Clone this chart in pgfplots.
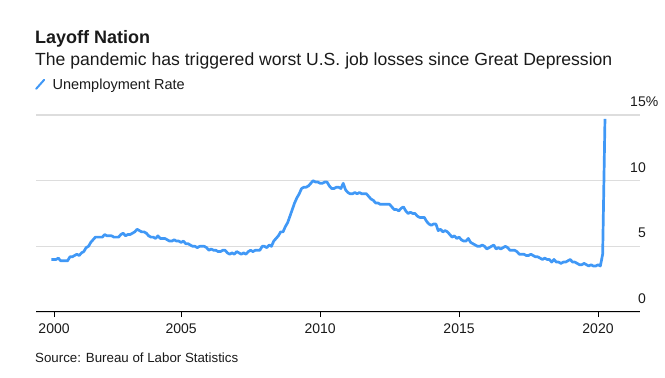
\documentclass[border=0pt]{standalone}
\usepackage{pgfplots}
\pgfplotsset{compat=1.18}
\usepackage{fontspec}
\setmainfont{Liberation Sans}
\definecolor{lineblue}{RGB}{64,152,246}
\definecolor{gridgray}{RGB}{221,221,221}
\definecolor{txt}{RGB}{26,26,26}
\begin{document}
\begin{tikzpicture}[x=1pt,y=1pt]
\path[use as bounding box] (0,0) rectangle (665,378);
\node[anchor=base west, inner sep=0pt, text=txt, font=\bfseries\fontsize{18}{18}\selectfont] at (35,334) {Layoff Nation};
\node[anchor=base west, inner sep=0pt, text=txt, font=\fontsize{17.6}{18}\selectfont] at (35,312) {The pandemic has triggered worst U.S. job losses since Great Depression};
\node[anchor=base west, inner sep=0pt, text=txt, font=\fontsize{13.3}{14}\selectfont] at (35,16) {Source: Bureau of Labor Statistics};
\begin{axis}[
  at={(36pt,66pt)}, anchor=south west,
  scale only axis, width=604pt, height=197pt,
  xmin=1999.78, xmax=2021.51, ymin=0, ymax=15,
  axis x line*=bottom, axis y line*=right,
  y axis line style={draw=none},
  x axis line style={black, line width=1pt, -},
  ytick={0,5,10,15}, yticklabels={0,5,10,15\rlap{\%}},
  ytick style={draw=none},
  ymajorgrids, grid style={gridgray, line width=1.2pt},
  xtick={2000.43,2005,2010,2015,2020},
  xticklabels={2000,2005,2010,2015,2020},
  xtick style={black, line width=0.9pt},
  tick align=outside, major tick length=5pt,
  xticklabel style={font=\fontsize{14}{14}\selectfont, text=txt, yshift=-3pt},
  yticklabel style={font=\fontsize{14}{14}\selectfont, text=txt, anchor=south east, inner sep=0pt, xshift=1pt, yshift=8pt},
  clip=false,
  legend style={at={(axis description cs:0,1)}, anchor=south west, draw=none, fill=none,
    font=\fontsize{14.5}{15}\selectfont, text=txt, inner sep=0pt, xshift=-1pt, yshift=22pt},
  legend image code/.code={\draw[#1, line width=2pt, line cap=round] (0pt,-4pt) -- (8pt,5pt); \path (13pt,0pt);},
  legend cell align=left,
]
\addplot[lineblue, line width=2.7pt, line join=round] coordinates {
(2000.333,4.0)(2000.417,4.0)(2000.500,4.0)(2000.583,4.1)(2000.667,3.9)(2000.750,3.9)(2000.833,3.9)(2000.917,3.9)
(2001.000,4.2)(2001.083,4.2)(2001.167,4.3)(2001.250,4.4)(2001.333,4.3)(2001.417,4.5)(2001.500,4.6)(2001.583,4.9)(2001.667,5.0)(2001.750,5.3)(2001.833,5.5)(2001.917,5.7)
(2002.000,5.7)(2002.083,5.7)(2002.167,5.7)(2002.250,5.9)(2002.333,5.8)(2002.417,5.8)(2002.500,5.8)(2002.583,5.7)(2002.667,5.7)(2002.750,5.7)(2002.833,5.9)(2002.917,6.0)
(2003.000,5.8)(2003.083,5.9)(2003.167,5.9)(2003.250,6.0)(2003.333,6.1)(2003.417,6.3)(2003.500,6.2)(2003.583,6.1)(2003.667,6.1)(2003.750,6.0)(2003.833,5.8)(2003.917,5.7)
(2004.000,5.7)(2004.083,5.6)(2004.167,5.8)(2004.250,5.6)(2004.333,5.6)(2004.417,5.6)(2004.500,5.5)(2004.583,5.4)(2004.667,5.4)(2004.750,5.5)(2004.833,5.4)(2004.917,5.4)
(2005.000,5.3)(2005.083,5.4)(2005.167,5.2)(2005.250,5.2)(2005.333,5.1)(2005.417,5.0)(2005.500,5.0)(2005.583,4.9)(2005.667,5.0)(2005.750,5.0)(2005.833,5.0)(2005.917,4.9)
(2006.000,4.7)(2006.083,4.8)(2006.167,4.7)(2006.250,4.7)(2006.333,4.6)(2006.417,4.6)(2006.500,4.7)(2006.583,4.7)(2006.667,4.5)(2006.750,4.4)(2006.833,4.5)(2006.917,4.4)
(2007.000,4.6)(2007.083,4.5)(2007.167,4.4)(2007.250,4.5)(2007.333,4.4)(2007.417,4.6)(2007.500,4.7)(2007.583,4.6)(2007.667,4.7)(2007.750,4.7)(2007.833,4.7)(2007.917,5.0)
(2008.000,5.0)(2008.083,4.9)(2008.167,5.1)(2008.250,5.0)(2008.333,5.4)(2008.417,5.6)(2008.500,5.8)(2008.583,6.1)(2008.667,6.1)(2008.750,6.5)(2008.833,6.8)(2008.917,7.3)
(2009.000,7.8)(2009.083,8.3)(2009.167,8.7)(2009.250,9.0)(2009.333,9.4)(2009.417,9.5)(2009.500,9.5)(2009.583,9.6)(2009.667,9.8)(2009.750,10.0)(2009.833,9.9)(2009.917,9.9)
(2010.000,9.8)(2010.083,9.8)(2010.167,9.9)(2010.250,9.9)(2010.333,9.6)(2010.417,9.4)(2010.500,9.4)(2010.583,9.5)(2010.667,9.5)(2010.750,9.4)(2010.833,9.8)(2010.917,9.3)
(2011.000,9.1)(2011.083,9.0)(2011.167,9.0)(2011.250,9.1)(2011.333,9.0)(2011.417,9.1)(2011.500,9.0)(2011.583,9.0)(2011.667,9.0)(2011.750,8.8)(2011.833,8.6)(2011.917,8.5)
(2012.000,8.3)(2012.083,8.3)(2012.167,8.2)(2012.250,8.2)(2012.333,8.2)(2012.417,8.2)(2012.500,8.2)(2012.583,8.0)(2012.667,7.8)(2012.750,7.8)(2012.833,7.7)(2012.917,7.9)
(2013.000,8.0)(2013.083,7.7)(2013.167,7.5)(2013.250,7.6)(2013.333,7.5)(2013.417,7.5)(2013.500,7.3)(2013.583,7.2)(2013.667,7.2)(2013.750,7.2)(2013.833,6.9)(2013.917,6.7)
(2014.000,6.6)(2014.083,6.7)(2014.167,6.7)(2014.250,6.2)(2014.333,6.3)(2014.417,6.1)(2014.500,6.2)(2014.583,6.1)(2014.667,5.9)(2014.750,5.7)(2014.833,5.8)(2014.917,5.6)
(2015.000,5.7)(2015.083,5.5)(2015.167,5.4)(2015.250,5.4)(2015.333,5.6)(2015.417,5.3)(2015.500,5.2)(2015.583,5.1)(2015.667,5.0)(2015.750,5.0)(2015.833,5.1)(2015.917,5.0)
(2016.000,4.8)(2016.083,4.9)(2016.167,5.0)(2016.250,5.1)(2016.333,4.8)(2016.417,4.9)(2016.500,4.8)(2016.583,4.9)(2016.667,5.0)(2016.750,4.9)(2016.833,4.7)(2016.917,4.7)
(2017.000,4.7)(2017.083,4.6)(2017.167,4.4)(2017.250,4.4)(2017.333,4.4)(2017.417,4.3)(2017.500,4.3)(2017.583,4.4)(2017.667,4.3)(2017.750,4.2)(2017.833,4.2)(2017.917,4.1)
(2018.000,4.0)(2018.083,4.1)(2018.167,4.0)(2018.250,4.0)(2018.333,3.8)(2018.417,4.0)(2018.500,3.8)(2018.583,3.8)(2018.667,3.7)(2018.750,3.8)(2018.833,3.8)(2018.917,3.9)
(2019.000,4.0)(2019.083,3.8)(2019.167,3.8)(2019.250,3.7)(2019.333,3.6)(2019.417,3.6)(2019.500,3.7)(2019.583,3.6)(2019.667,3.5)(2019.750,3.6)(2019.833,3.5)(2019.917,3.5)
(2020.000,3.6)(2020.083,3.5)(2020.167,4.4)(2020.250,14.7)
};
\addlegendentry{Unemployment Rate}
\end{axis}
\end{tikzpicture}
\end{document}
